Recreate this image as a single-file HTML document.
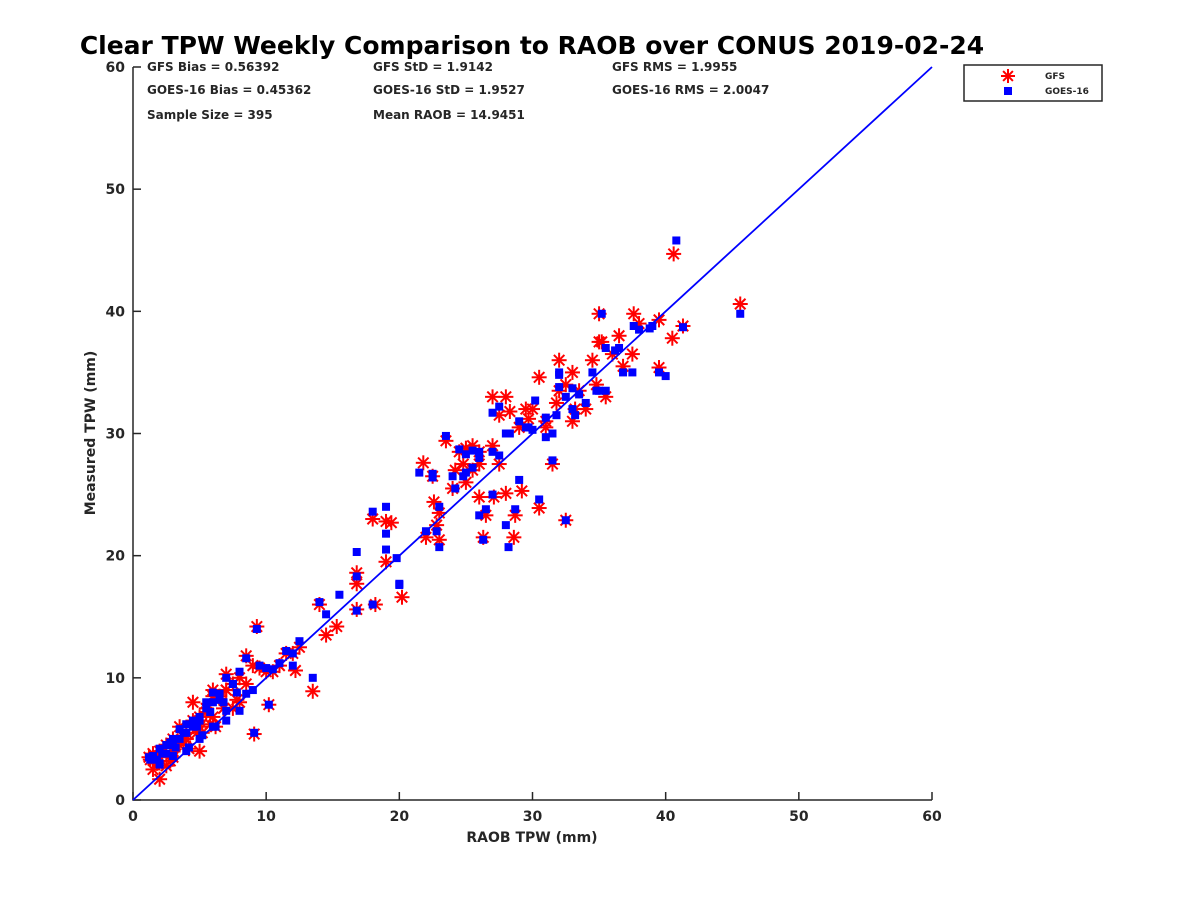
<!DOCTYPE html>
<html><head><meta charset="utf-8"><style>
body{margin:0;background:#fff;font-family:"DejaVu Sans","Liberation Sans",sans-serif}
svg text{font-family:"DejaVu Sans","Liberation Sans",sans-serif;font-weight:bold}
</style></head><body>
<svg id="c" width="1200" height="900" xmlns="http://www.w3.org/2000/svg">
<rect width="1200" height="900" fill="#fff"/>
<text x="532" y="54" font-size="25" text-anchor="middle">Clear TPW Weekly Comparison to RAOB over CONUS 2019-02-24</text>
<g font-size="12" fill="#262626">
<text x="147" y="71">GFS Bias = 0.56392</text>
<text x="373" y="71">GFS StD = 1.9142</text>
<text x="612" y="71">GFS RMS = 1.9955</text>
<text x="147" y="94">GOES-16 Bias = 0.45362</text>
<text x="373" y="94">GOES-16 StD = 1.9527</text>
<text x="612" y="94">GOES-16 RMS = 2.0047</text>
<text x="147" y="119">Sample Size = 395</text>
<text x="373" y="119">Mean RAOB = 14.9451</text>
</g>
<g id="axes"></g>
<g id="marks"></g>
<g>
<rect x="964" y="65" width="138" height="36" fill="#fff" stroke="#262626" stroke-width="1.5"/>
<g id="leg"></g>
<text x="1045" y="79" font-size="9" fill="#262626">GFS</text>
<text x="1045" y="94" font-size="9" fill="#262626">GOES-16</text>
</g>
<text x="532" y="842" font-size="14" text-anchor="middle" fill="#262626">RAOB TPW (mm)</text>
<text x="95" y="433" font-size="14" text-anchor="middle" fill="#262626" transform="rotate(-90 95 433)">Measured TPW (mm)</text>
</svg>
<script>
const xTicks=[0,10,20,30,40,50,60];
const yTicks=[0,10,20,30,40,50,60];
const gfsX=[
40.6,45.6,32.5,20.2,13.5,9.3,9.1,10.2,12.2,15.3,
14,18.2,16.8,16.8,16.8,18,19,19.4,19,21.8,
22.6,23.5,24,22,23,25,25.5,26,26.3,26.5,
27.1,28,28.6,28.7,29.2,29,30,30.5,30.5,31.5,
31,32,32.5,33,34,35,35,36.5,37.5,37.6,
38,39.5,40.5,41.3,39.5,35.5,33.5,26,27,27.5,
28,27,25,24.8,26,27.5,12,11,10.5,22.5,
23,24.5,25.5,29.5,31,32,33,34.5,35.2,36,
12.5,14.5,8.5,8,7.5,7,6.5,6,5.5,5,
4.5,4,3.5,3,2.5,2,1.5,1.2,1.5,2,
2.5,3,3.5,4,4.5,5,5.5,6,6.5,7,
7.5,8,9,8.5,7,6,5,4,3,2,
1.8,2.8,3.8,4.8,5.8,6.8,7.8,4.2,5.2,6.2,
3.2,2.2,1.3,9.5,10,11.5,31.8,33.2,34.8,36.8,
28.3,24.2,22.8,29.7,4.5,5];
const gfsY=[
44.7,40.6,22.9,16.6,8.9,14.2,5.4,7.8,10.6,14.2,
16,16,15.6,17.7,18.6,23,22.8,22.7,19.5,27.6,
24.4,29.4,25.5,21.5,21.3,26,27,24.8,21.5,23.3,
24.8,25.1,21.5,23.3,25.3,30.5,32,23.9,34.6,27.5,
31,36,34,31,32,37.5,39.8,38,36.5,39.8,
39,35.4,37.8,38.8,39.3,33,33.5,28.5,29,31.5,
33,33,28.8,27.5,27.5,27.5,12,11,10.5,26.5,
23.5,28.5,29,32,30.5,33.5,35,36,37.5,36.5,
12.5,13.5,11.8,8,9.5,10.3,8.5,9,7.5,6.5,
6,5.5,6,5,4.5,4,3.8,3.5,2.5,1.7,
2.8,3.5,4.5,5,6.5,6.8,7.2,8.5,8.3,9,
7.5,10,11,9.5,9,6.8,6,5,4,3.5,
3,3.2,4.8,5.5,6.2,7.5,8.2,4.2,5.5,6,
4.5,4,3.3,10.8,10.5,12,32.5,32,34,35.5,
31.8,27,22.5,31.2,8,4];
const goesX=[
40.8,45.6,32.5,20,13.5,9.3,9.1,10.2,12,15.5,
14,18,16.8,16.8,18,19,19,19.8,21.5,22.5,
23.5,24,22,23,25,25.5,26,26.3,26.5,27,
28,28.2,28.7,29,29,30,30.5,30.2,31.5,31,
32,32.5,33,34,35,35.2,36.5,37.5,37.6,38,
39.5,40,41.3,39,35.5,33.5,26,27,27.5,28,
27,25,24.8,26,27.5,12,11,10.5,22.5,23,
24.5,25.5,29.5,31,32,33,34.5,35.5,36.2,12.5,
14.5,8.5,8,7.5,7,6.5,6,5.5,5,4.5,
4,3.5,3,2.5,2,1.5,1.2,1.5,2,2.5,
3,3.5,4,4.5,5,5.5,6,6.5,7,7.5,
8,9,8.5,7,6,5,4,3,2,1.8,
2.8,3.8,4.8,5.8,6.8,7.8,4.2,5.2,6.2,3.2,
2.2,1.3,9.5,10,11.5,31.8,33.2,34.8,36.8,28.3,
24.2,22.8,29.7,16.8,19,20,31.5,32,38.8];
const goesY=[
45.8,39.8,22.9,17.6,10,14,5.5,7.8,11,16.8,
16.2,16,15.5,18.3,23.6,24,21.8,19.8,26.8,26.4,
29.8,26.5,22,20.7,26.8,27.2,23.3,21.3,23.8,25,
22.5,20.7,23.8,31,26.2,30.3,24.6,32.7,27.8,31.3,
35,33,32,32.5,33.5,39.8,37,35,38.8,38.5,
35,34.7,38.7,38.8,33.5,33.2,28,28.5,32.2,30,
31.7,28.3,26.5,28.5,28.2,12,11.2,10.7,26.7,24,
28.7,28.6,30.5,29.7,33.8,33.7,35,37,36.8,13,
15.2,11.6,7.3,9.5,10,8.2,8.8,7.5,6.5,6,
5.5,5.8,5,4.5,4.2,3.6,3.5,3.5,2.9,3.8,
4.5,5,6.2,6.5,6.8,8,8,8.7,7.3,9.5,
10.5,9,8.7,6.5,6,5,4,3.6,3,3.3,
4.7,5.5,6,7.2,8,8.8,4.3,5.3,6,4.3,
3.8,3.3,11,10.8,12.2,31.5,31.5,33.5,35,30,
25.5,22,30.5,20.3,20.5,17.7,30,34.8,38.6];
const X0=133,X1=932,Y0=800,Y1=67;
const sx=v=>X0+v/60*(X1-X0);
const sy=v=>Y0-v/60*(Y0-Y1);
const NS="http://www.w3.org/2000/svg";
function mk(t,a,p){const e=document.createElementNS(NS,t);for(const k in a)e.setAttribute(k,a[k]);p.appendChild(e);return e;}
const ax=document.getElementById('axes');
const axL=mk('path',{d:`M${X0},${Y1}V${Y0}H${X1}`,fill:'none',stroke:'#262626','stroke-width':1.5},ax);


xTicks.forEach(t=>{
  mk('line',{x1:sx(t),x2:sx(t),y1:Y0,y2:Y0-8,stroke:'#262626','stroke-width':1.5},ax);
  const tx=mk('text',{x:sx(t),y:Y0+21,'font-size':14,'text-anchor':'middle',fill:'#262626'},ax);
  tx.textContent=t;
  
  
});
yTicks.forEach(t=>{
  mk('line',{x1:X0,x2:X0+8,y1:sy(t),y2:sy(t),stroke:'#262626','stroke-width':1.5},ax);
  const tx=mk('text',{x:X0-8,y:sy(t)+5,'font-size':14,'text-anchor':'end',fill:'#262626'},ax);
  tx.textContent=t;
  
  
});
const mg=document.getElementById('marks');
function star(cx,cy,r,p){
  const g=mk('g',{stroke:'#ff0000','stroke-width':2},p);
  [[r,0],[0,r],[r*0.7,r*0.7],[r*0.7,-r*0.7]].forEach(([a,b])=>mk('line',{x1:cx-a,y1:cy-b,x2:cx+a,y2:cy+b},g));
  return g;
}
gfsX.forEach((v,i)=>{
  const g=star(sx(v),sy(gfsY[i]),7.5,mg);
  
  
});
goesX.forEach((v,i)=>{
  const r=mk('rect',{x:sx(v)-4,y:sy(goesY[i])-4,width:8,height:8,fill:'#0000ff'},mg);
  
  
});
const ln=mk('line',{x1:sx(0),y1:sy(0),x2:sx(60),y2:sy(60),stroke:'#0000ff','stroke-width':1.8},mg);


const lg=document.getElementById('leg');
const ls=star(1008,76,7,lg);


const lr=mk('rect',{x:1004,y:87,width:8,height:8,fill:'#0000ff'},lg);


</script>
</body></html>
